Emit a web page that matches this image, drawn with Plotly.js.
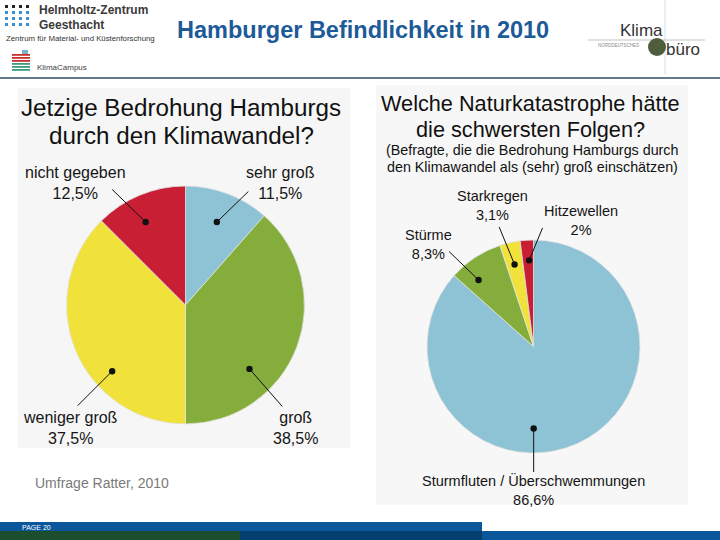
<!DOCTYPE html>
<html>
<head>
<meta charset="utf-8">
<script src="https://cdn.plot.ly/plotly-3.0.1.min.js"></script>
<style>html,body{margin:0;padding:0;background:#fff;}#chart{width:720px;height:540px;}</style>
</head>
<body>
<div id="chart"></div>
<script>
// ---------- DATA ----------
var slideTitle = 'Hamburger Befindlichkeit in 2010';
var leftTitle = ['Jetzige Bedrohung Hamburgs', 'durch den Klimawandel?'];
var leftLabels = ['sehr groß', 'groß', 'weniger groß', 'nicht gegeben'];
var leftValues = [11.5, 38.5, 37.5, 12.5];
var rightTitle = ['Welche Naturkatastrophe hätte', 'die schwersten Folgen?'];
var rightSubtitle = ['(Befragte, die die Bedrohung Hamburgs durch', 'den Klimawandel als (sehr) groß einschätzen)'];
var rightLabels = ['Sturmfluten / Überschwemmungen', 'Stürme', 'Starkregen', 'Hitzewellen'];
var rightValues = [86.6, 8.3, 3.1, 2.0];
var sourceNote = 'Umfrage Ratter, 2010';
var pageLabel = 'PAGE 20';

// ---------- STYLE ----------
var W = 720, H = 540;
var leftColors = ['#8ec3d5', '#84ad3c', '#f0e23a', '#c81f35'];
var rightColors = ['#8ec3d5', '#84ad3c', '#f0e23a', '#c81f35'];
function px(x) { return x / W; }
function py(y) { return 1 - y / H; }
var leftDomain = {x: [px(66.5), px(304.5)], y: [py(424), py(186)]};
var rightDomain = {x: [px(427), px(640)], y: [py(453), py(240)]};
// leader dot placement within each slice: [fraction of slice angle, fraction of radius]
var leftDot = [[0.5, 0.745], [0.675, 0.76], [0.355, 0.83], [0.43, 0.774]];
var rightDot = [[0.577, 0.77], [0.29, 0.81], [0.48, 0.79], [0.6, 0.81]];
// leader tail offsets (px) from the dot
var leftTail = [[33, -32], [34, 39], [-36, 36], [-35, -34]];
var rightTail = [[0, 45], [-31, -30], [-16, -39], [14, -34]];
// label text centres (px)
var leftLabelPos = [[280, 183], [295, 428], [70, 428], [75, 183]];
var rightLabelPos = [[533, 490], [428, 244], [492, 205], [581, 221]];

function pct(v) {
  var s = (Math.round(v * 10) / 10);
  s = Number.isInteger(s) ? String(s) : s.toFixed(1).replace('.', ',');
  return s + '%';
}

function dotPos(domain, values, i, frac, rf) {
  var total = values.reduce(function (a, b) { return a + b; }, 0);
  var cum = 0;
  for (var k = 0; k < i; k++) cum += values[k];
  var th = (cum + frac * values[i]) / total * 2 * Math.PI;
  var cx = (domain.x[0] + domain.x[1]) / 2 * W;
  var cy = (1 - (domain.y[0] + domain.y[1]) / 2) * H;
  var R = Math.min((domain.x[1] - domain.x[0]) * W, (domain.y[1] - domain.y[0]) * H) / 2;
  return [(cx + rf * R * Math.sin(th)) / W, 1 - (cy - rf * R * Math.cos(th)) / H];
}

var FONT = 'Liberation Sans, Arial, Helvetica, sans-serif';

var traces = [
  {type: 'pie', labels: leftLabels, values: leftValues, sort: false, direction: 'clockwise', rotation: 0,
   domain: leftDomain, textinfo: 'none', hoverinfo: 'label+percent', showlegend: false,
   marker: {colors: leftColors, line: {color: '#e2e2e2', width: 0.8}}},
  {type: 'pie', labels: rightLabels, values: rightValues, sort: false, direction: 'clockwise', rotation: 0,
   domain: rightDomain, textinfo: 'none', hoverinfo: 'label+percent', showlegend: false,
   marker: {colors: rightColors, line: {color: '#e2e2e2', width: 0.8}}}
];

var ann = [];
function txt(x, y, text, size, color, opts) {
  var a = {xref: 'paper', yref: 'paper', x: px(x), y: py(y), text: text, showarrow: false,
    xanchor: 'center', yanchor: 'middle', font: {family: FONT, size: size, color: color}};
  if (opts) for (var k in opts) { if (k === 'font') { for (var f in opts.font) a.font[f] = opts.font[f]; } else a[k] = opts[k]; }
  ann.push(a);
}

// slide title
txt(363, 30, '<b>' + slideTitle + '</b>', 23.5, '#1c5a98');
// left panel titles
txt(181, 108, leftTitle[0], 24.2, '#111');
txt(181, 136, leftTitle[1], 24.2, '#111');
// right panel titles
txt(530, 103, rightTitle[0], 21.7, '#111');
txt(530, 129, rightTitle[1], 21.7, '#111');
txt(532, 150, rightSubtitle[0], 14.3, '#111');
txt(532, 167, rightSubtitle[1], 14.3, '#111');

// pie labels + leaders
function addPieLabels(domain, labels, values, dots, tails, pos, size) {
  for (var i = 0; i < labels.length; i++) {
    txt(pos[i][0], pos[i][1], labels[i] + '<br>' + pct(values[i]), size, '#151515');
    var d = dotPos(domain, values, i, dots[i][0], dots[i][1]);
    ann.push({xref: 'paper', yref: 'paper', x: d[0], y: d[1], text: '', showarrow: true,
      ax: tails[i][0], ay: tails[i][1], arrowhead: 6, arrowsize: 1.6, arrowwidth: 1,
      arrowcolor: '#111', standoff: 0});
  }
}
addPieLabels(leftDomain, leftLabels, leftValues, leftDot, leftTail, leftLabelPos, 16);
addPieLabels(rightDomain, rightLabels, rightValues, rightDot, rightTail, rightLabelPos, 14.5);

// source note
txt(33, 483, sourceNote, 14, '#7a7a7a', {xanchor: 'left'});
// footer page
txt(20, 527, pageLabel, 7, '#fff', {xanchor: 'left'});

// header logos (text)
txt(37, 10, '<b>Helmholtz-Zentrum</b>', 12, '#3a3a3a', {xanchor: 'left'});
txt(37, 25, '<b>Geesthacht</b>', 12, '#3a3a3a', {xanchor: 'left'});
txt(4, 39, 'Zentrum für Material- und Küstenforschung', 7.8, '#333', {xanchor: 'left'});
txt(35, 67, 'KlimaCampus', 8, '#444', {xanchor: 'left'});
txt(641, 30, 'Klima', 17, '#333');
txt(683, 49, 'büro', 17, '#333');
txt(618, 45, 'NORDDEUTSCHES', 4.5, '#888');

var shapes = [];
function rect(x0, y0, x1, y1, fill, layer) {
  shapes.push({type: 'rect', xref: 'paper', yref: 'paper', x0: px(x0), x1: px(x1), y0: py(y1), y1: py(y0),
    fillcolor: fill, line: {width: 0}, layer: layer || 'below'});
}
function line(x0, y0, x1, y1, color, w) {
  shapes.push({type: 'line', xref: 'paper', yref: 'paper', x0: px(x0), x1: px(x1), y0: py(y0), y1: py(y1),
    line: {color: color, width: w}, layer: 'below'});
}
// panels
rect(18, 88, 350, 448, '#f6f6f6');
rect(376, 85, 688, 505, '#f7f7f7');
// header rule
line(0, 78, 720, 78, '#2f4c66', 1.5);
// footer bars
rect(0, 522, 482, 531, '#0a579c');
rect(0, 531, 240, 540, '#1b4d2e');
rect(240, 531, 482, 540, '#053f70');
rect(482, 531, 720, 540, '#0a579c');
// helmholtz dot grid
for (var r = 0; r < 4; r++) for (var c = 0; c < 4; c++) {
  rect(5 + c * 7, 5 + r * 6, 8 + c * 7, 8 + r * 6, r === 0 ? '#222' : '#3b8fd3');
}
// klimacampus icon
var kcCols = ['#c9302c', '#c9302c', '#c9302c', '#3e9a7a', '#3e9a7a', '#3e9a7a'];
for (var s = 0; s < 6; s++) rect(12, 54 + s * 3, 30, 55.8 + s * 3, kcCols[s]);
rect(22, 50, 28, 54, '#7ab0c8');
// klimabüro
line(665, 0, 665, 74, '#cfe0ea', 1);
line(588, 40, 705, 40, '#9a9a9a', 0.6);
shapes.push({type: 'circle', xref: 'paper', yref: 'paper', x0: px(648), x1: px(666), y0: py(56), y1: py(38),
  fillcolor: '#4e5e3c', line: {width: 0}});

var layout = {
  width: W, height: H, margin: {l: 0, r: 0, t: 0, b: 0},
  paper_bgcolor: '#ffffff', plot_bgcolor: '#ffffff',
  font: {family: FONT},
  showlegend: false,
  annotations: ann, shapes: shapes
};
Plotly.newPlot('chart', traces, layout, {displayModeBar: false, staticPlot: true});
</script>
</body>
</html>
